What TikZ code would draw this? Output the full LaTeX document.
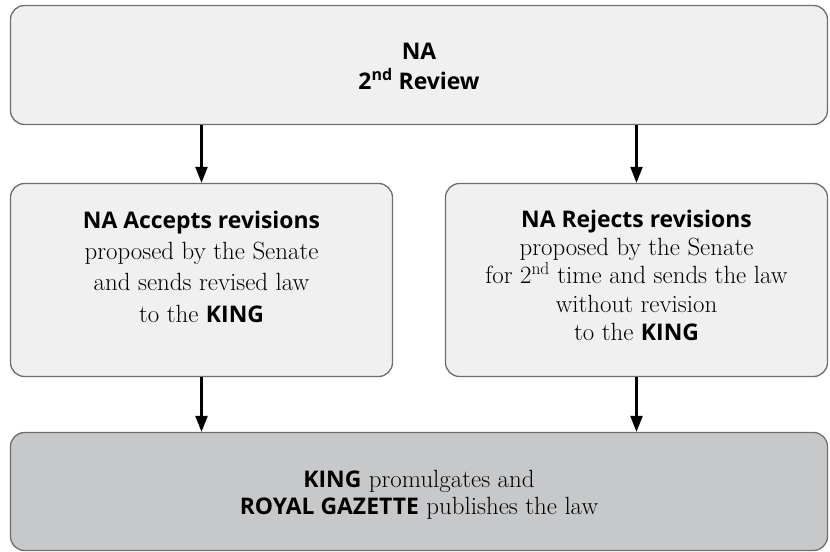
\documentclass[tikz,border=0pt]{standalone}
\usepackage{fontspec}
\usetikzlibrary{arrows.meta}
\newfontfamily\headfont{Open Sans}[BoldFont={Open Sans Bold}]
\newcommand{\hb}[1]{{\headfont\bfseries\fontsize{23}{23}\selectfont #1}}
\definecolor{boxline}{HTML}{6E6E6E}
\definecolor{lightfill}{HTML}{F0F0F0}
\definecolor{darkfill}{HTML}{C7C8CA}
\tikzset{
  stagebox/.style={draw=boxline, line width=1.3bp, rounded corners=14bp,
    fill=lightfill, inner sep=0pt},
  finalbox/.style={stagebox, fill=darkfill},
  boxtext/.style={inner sep=0pt, align=center, text=black},
  flow/.style={line width=2.2bp, -{Triangle[length=16bp, width=12bp]}}
}
\begin{document}
\begin{tikzpicture}[x=1bp, y=-1bp]
  \useasboundingbox (0,0) rectangle (830,552);
  % boxes
  \node[stagebox, minimum width=817bp, minimum height=119bp] (review) at (419,65) {};
  \node[stagebox, minimum width=382bp, minimum height=193bp] (accept) at (201.5,280) {};
  \node[stagebox, minimum width=382bp, minimum height=193bp] (reject) at (636.5,280) {};
  \node[finalbox, minimum width=817bp, minimum height=118bp] (king) at (419,491.5) {};
  % texts
  \node[boxtext, font=\fontsize{25}{30}\selectfont, anchor=north] (reviewtxt) at (419,43)
    {\hb{NA}\\ \hb{2\textsuperscript{nd} Review}};
  \node[boxtext, font=\fontsize{25}{31.5}\selectfont, anchor=north] (accepttxt) at (201.5,210.5)
    {\hb{NA Accepts revisions}\\ proposed by the Senate\\ and sends revised law\\ to the \hb{KING}};
  \node[boxtext, font=\fontsize{25}{28.5}\selectfont, anchor=north] (rejecttxt) at (636.5,209.5)
    {\hb{NA Rejects revisions}\\ proposed by the Senate\\ for 2\textsuperscript{nd} time and sends the law\\ without revision\\ to the \hb{KING}};
  \node[boxtext, font=\fontsize{25}{27}\selectfont, anchor=north] (kingtxt) at (419,470)
    {\hb{KING} promulgates and\\ \hb{ROYAL GAZETTE} publishes the law};
  % connectors
  \draw[flow] (review.south -| accept.north) -- (accept.north);
  \draw[flow] (review.south -| reject.north) -- (reject.north);
  \draw[flow] (accept.south) -- (king.north -| accept.south);
  \draw[flow] (reject.south) -- (king.north -| reject.south);
\end{tikzpicture}
\end{document}
